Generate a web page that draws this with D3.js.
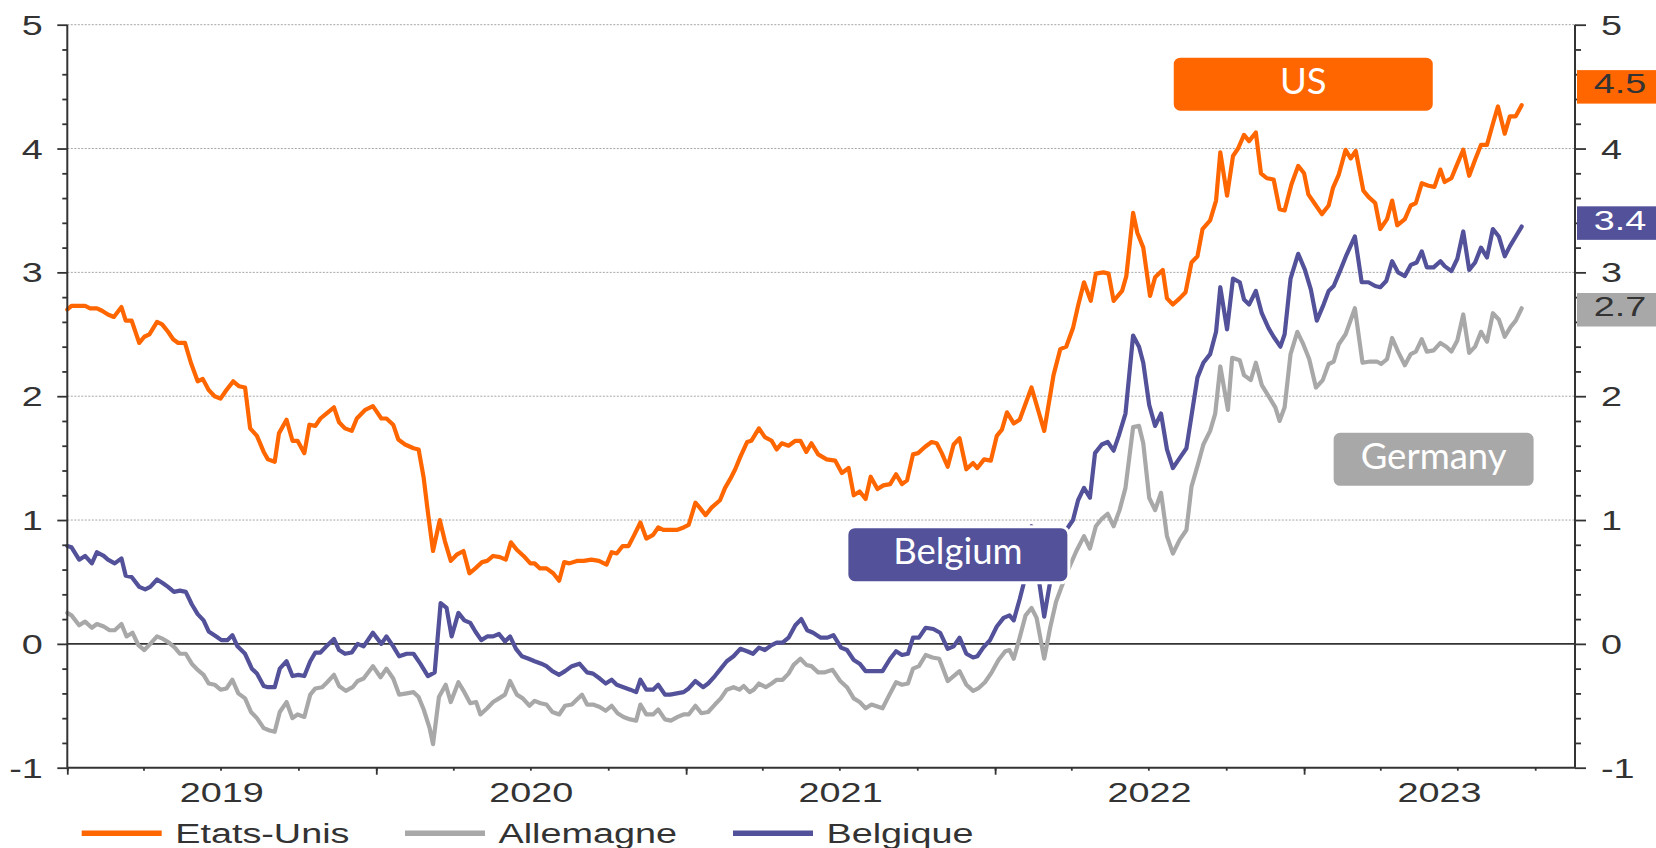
<!DOCTYPE html>
<html>
<head>
<meta charset="utf-8">
<script src="https://cdn.jsdelivr.net/npm/d3@7"></script>
<style>
  html, body { margin: 0; padding: 0; background: #ffffff; }
  svg { display: block; }
</style>
</head>
<body>
<svg id="chart" width="1656" height="848"></svg>
<script>
// 10-year government bond yields (%), weekly, days counted from 1 Jan 2019
const seriesNames = ["Etats-Unis", "Allemagne", "Belgique"];
const seriesColors = ["#ff6600", "#a8a8a8", "#525199"];
const yTicks = [-1, 0, 1, 2, 3, 4, 5];
const yearLabels = ["2019", "2020", "2021", "2022", "2023"];

const usPoints = [
  [0,2.70],[5,2.73],[13,2.73],[21,2.73],[27,2.71],[35,2.71],[41,2.69],[48,2.66],[55,2.64],[64,2.72],
  [69,2.61],[76,2.61],[85,2.43],[91,2.48],[97,2.50],[106,2.60],[112,2.58],[119,2.52],[125,2.46],[131,2.43],
  [139,2.43],[146,2.27],[154,2.12],[160,2.14],[167,2.05],[174,2.00],[181,1.98],[188,2.05],[196,2.12],[203,2.08],
  [210,2.07],[216,1.74],[224,1.68],[232,1.55],[237,1.49],[245,1.47],[250,1.70],[259,1.81],[266,1.64],[272,1.64],
  [280,1.54],[286,1.77],[293,1.76],[299,1.82],[306,1.86],[315,1.91],[321,1.79],[328,1.74],[336,1.72],[342,1.82],
  [352,1.89],[361,1.92],[371,1.82],[377,1.82],[385,1.77],[391,1.65],[399,1.61],[409,1.58],[415,1.57],[421,1.34],
  [426,1.06],[432,0.75],[440,1.00],[446,0.83],[453,0.67],[460,0.72],[468,0.75],[475,0.57],[482,0.61],[490,0.66],
  [496,0.67],[503,0.71],[511,0.70],[518,0.68],[524,0.82],[531,0.76],[539,0.71],[547,0.65],[552,0.65],[558,0.61],
  [566,0.61],[574,0.57],[581,0.51],[587,0.66],[593,0.65],[602,0.67],[610,0.67],[619,0.68],[628,0.67],[637,0.64],
  [643,0.74],[649,0.73],[656,0.79],[663,0.79],[669,0.87],[677,0.98],[684,0.85],[692,0.88],[698,0.94],[704,0.92],
  [712,0.92],[720,0.92],[728,0.94],[734,0.96],[742,1.14],[747,1.10],[754,1.04],[761,1.10],[771,1.16],[777,1.26],
  [783,1.33],[789,1.41],[795,1.51],[803,1.63],[808,1.64],[817,1.74],[824,1.67],[832,1.64],[838,1.57],[844,1.62],
  [852,1.60],[860,1.64],[866,1.64],[873,1.55],[879,1.62],[887,1.53],[897,1.49],[907,1.48],[915,1.38],[923,1.42],
  [929,1.20],[936,1.23],[943,1.17],[949,1.35],[957,1.25],[964,1.28],[972,1.29],[979,1.37],[986,1.29],[992,1.32],
  [999,1.53],[1005,1.54],[1013,1.59],[1021,1.63],[1027,1.62],[1033,1.54],[1040,1.43],[1047,1.61],[1054,1.66],[1062,1.41],
  [1070,1.46],[1075,1.42],[1083,1.49],[1091,1.48],[1098,1.68],[1104,1.73],[1110,1.87],[1118,1.78],[1125,1.81],[1139,2.07],
  [1154,1.72],[1165,2.17],[1173,2.38],[1180,2.40],[1188,2.55],[1194,2.73],[1201,2.92],[1209,2.77],[1215,2.99],[1224,3.00],
  [1230,2.99],[1236,2.77],[1246,2.85],[1251,2.97],[1259,3.48],[1264,3.32],[1271,3.20],[1279,2.81],[1285,2.96],[1294,3.02],
  [1299,2.79],[1306,2.74],[1314,2.79],[1321,2.84],[1328,3.08],[1335,3.13],[1341,3.35],[1350,3.42],[1357,3.58],[1362,3.97],
  [1370,3.62],[1377,3.94],[1383,4.00],[1390,4.11],[1396,4.06],[1404,4.13],[1410,3.80],[1417,3.76],[1425,3.75],[1432,3.51],
  [1438,3.50],[1446,3.71],[1454,3.86],[1461,3.80],[1466,3.63],[1474,3.55],[1482,3.47],[1490,3.54],[1495,3.68],[1502,3.79],
  [1510,3.99],[1516,3.92],[1522,3.98],[1531,3.66],[1537,3.61],[1545,3.56],[1551,3.35],[1559,3.43],[1565,3.58],[1571,3.38],
  [1580,3.43],[1587,3.54],[1593,3.56],[1600,3.72],[1608,3.70],[1615,3.69],[1622,3.83],[1627,3.73],[1635,3.76],[1641,3.86],
  [1649,3.99],[1656,3.78],[1663,3.91],[1670,4.03],[1677,4.03],[1684,4.20],[1690,4.34],[1698,4.12],[1704,4.26],[1711,4.26],
  [1718,4.35]
];

const dePoints = [
  [0,0.25],[5,0.23],[14,0.15],[21,0.18],[29,0.13],[35,0.16],[43,0.14],[50,0.11],[56,0.11],[64,0.16],
  [70,0.06],[77,0.09],[84,-0.01],[91,-0.05],[98,0.00],[106,0.06],[113,0.04],[120,0.01],[127,-0.03],[133,-0.08],
  [140,-0.08],[147,-0.16],[154,-0.21],[161,-0.25],[167,-0.32],[174,-0.33],[181,-0.37],[188,-0.36],[195,-0.29],[202,-0.40],
  [210,-0.44],[217,-0.55],[224,-0.60],[232,-0.68],[239,-0.70],[245,-0.71],[251,-0.55],[259,-0.47],[266,-0.60],[272,-0.57],
  [280,-0.59],[287,-0.41],[293,-0.36],[301,-0.35],[307,-0.31],[315,-0.25],[321,-0.34],[329,-0.38],[337,-0.35],[343,-0.30],
  [350,-0.28],[361,-0.18],[370,-0.27],[377,-0.20],[385,-0.28],[392,-0.41],[401,-0.40],[409,-0.39],[415,-0.43],[421,-0.53],
  [428,-0.68],[432,-0.81],[439,-0.43],[447,-0.33],[453,-0.47],[462,-0.31],[469,-0.39],[476,-0.48],[483,-0.47],[488,-0.57],
  [496,-0.52],[503,-0.47],[510,-0.44],[517,-0.41],[523,-0.30],[531,-0.41],[538,-0.44],[546,-0.50],[552,-0.46],[559,-0.48],
  [566,-0.49],[573,-0.55],[581,-0.57],[588,-0.50],[596,-0.49],[602,-0.45],[608,-0.41],[614,-0.49],[621,-0.49],[629,-0.51],
  [636,-0.54],[643,-0.50],[650,-0.56],[657,-0.59],[665,-0.61],[672,-0.62],[677,-0.49],[684,-0.57],[692,-0.57],[698,-0.53],
  [706,-0.61],[713,-0.62],[721,-0.59],[728,-0.57],[734,-0.57],[742,-0.50],[749,-0.56],[757,-0.55],[765,-0.49],[772,-0.44],
  [779,-0.37],[787,-0.35],[794,-0.37],[799,-0.34],[806,-0.39],[811,-0.37],[817,-0.32],[825,-0.35],[832,-0.32],[838,-0.29],
  [845,-0.29],[852,-0.24],[858,-0.17],[866,-0.12],[873,-0.17],[879,-0.18],[887,-0.23],[895,-0.23],[904,-0.21],[913,-0.30],
  [921,-0.35],[929,-0.44],[936,-0.47],[943,-0.52],[950,-0.49],[963,-0.52],[972,-0.40],[979,-0.31],[986,-0.33],[993,-0.32],
  [999,-0.20],[1006,-0.18],[1014,-0.09],[1022,-0.11],[1030,-0.12],[1040,-0.30],[1047,-0.26],[1054,-0.22],[1062,-0.33],[1070,-0.38],
  [1076,-0.36],[1084,-0.31],[1092,-0.23],[1100,-0.13],[1108,-0.06],[1113,-0.05],[1118,-0.12],[1125,0.05],[1132,0.23],[1139,0.29],
  [1145,0.21],[1154,-0.12],[1161,0.13],[1168,0.34],[1176,0.49],[1183,0.61],[1192,0.75],[1201,0.87],[1208,0.77],[1215,0.95],
  [1222,1.01],[1229,1.05],[1236,0.95],[1243,1.08],[1250,1.26],[1259,1.75],[1266,1.76],[1271,1.62],[1278,1.18],[1285,1.08],
  [1292,1.22],[1299,0.87],[1306,0.73],[1314,0.84],[1322,0.92],[1328,1.27],[1336,1.46],[1342,1.61],[1350,1.72],[1356,1.86],
  [1362,2.24],[1371,1.89],[1376,2.31],[1385,2.29],[1390,2.17],[1398,2.13],[1404,2.27],[1411,2.09],[1419,2.00],[1427,1.91],
  [1432,1.80],[1438,1.91],[1445,2.34],[1453,2.52],[1460,2.42],[1467,2.30],[1475,2.07],[1483,2.13],[1490,2.26],[1496,2.28],
  [1502,2.42],[1510,2.50],[1521,2.71],[1530,2.27],[1539,2.28],[1547,2.28],[1552,2.26],[1559,2.30],[1565,2.47],[1572,2.36],
  [1580,2.25],[1587,2.34],[1593,2.36],[1600,2.46],[1606,2.36],[1614,2.37],[1622,2.43],[1629,2.40],[1635,2.36],[1642,2.45],
  [1649,2.66],[1656,2.35],[1663,2.40],[1670,2.52],[1677,2.44],[1684,2.67],[1691,2.62],[1698,2.48],[1705,2.56],[1711,2.61],
  [1718,2.71]
];

const bePoints = [
  [0,0.79],[5,0.78],[14,0.68],[21,0.71],[29,0.65],[35,0.74],[43,0.71],[48,0.68],[56,0.65],[64,0.69],
  [69,0.55],[76,0.54],[85,0.46],[92,0.44],[98,0.46],[106,0.52],[113,0.49],[119,0.46],[126,0.42],[133,0.43],
  [140,0.42],[147,0.32],[154,0.24],[161,0.19],[167,0.10],[176,0.06],[182,0.03],[189,0.03],[195,0.07],[201,-0.02],
  [210,-0.08],[218,-0.20],[224,-0.24],[232,-0.34],[237,-0.35],[245,-0.35],[251,-0.20],[259,-0.14],[266,-0.26],[273,-0.25],
  [280,-0.26],[287,-0.14],[293,-0.07],[299,-0.07],[306,-0.02],[315,0.04],[321,-0.05],[328,-0.08],[336,-0.07],[343,0.00],
  [350,-0.02],[361,0.09],[371,0.00],[377,0.06],[385,-0.02],[392,-0.10],[401,-0.08],[409,-0.08],[417,-0.16],[426,-0.26],
  [434,-0.23],[441,0.33],[448,0.29],[454,0.06],[462,0.25],[469,0.19],[476,0.17],[482,0.10],[489,0.03],[496,0.06],
  [503,0.06],[510,0.08],[517,0.02],[523,0.06],[530,-0.04],[537,-0.10],[545,-0.12],[552,-0.14],[560,-0.16],[566,-0.18],
  [573,-0.22],[581,-0.25],[588,-0.22],[596,-0.18],[605,-0.16],[614,-0.23],[621,-0.24],[629,-0.28],[636,-0.32],[643,-0.29],
  [649,-0.33],[657,-0.35],[665,-0.37],[672,-0.39],[677,-0.29],[684,-0.37],[692,-0.37],[698,-0.33],[706,-0.41],[712,-0.41],
  [720,-0.40],[728,-0.39],[734,-0.36],[742,-0.30],[751,-0.35],[757,-0.32],[765,-0.26],[772,-0.20],[779,-0.14],[787,-0.10],
  [795,-0.04],[803,-0.06],[810,-0.08],[817,-0.03],[824,-0.05],[832,-0.01],[838,0.01],[845,0.01],[852,0.05],[860,0.15],
  [867,0.20],[874,0.11],[881,0.09],[890,0.05],[898,0.05],[905,0.07],[914,-0.03],[921,-0.05],[929,-0.13],[936,-0.16],
  [943,-0.22],[952,-0.22],[963,-0.22],[972,-0.12],[979,-0.06],[986,-0.09],[993,-0.08],[999,0.05],[1006,0.05],[1014,0.13],
  [1023,0.12],[1031,0.09],[1040,-0.04],[1047,-0.02],[1054,0.05],[1062,-0.08],[1070,-0.11],[1075,-0.10],[1082,-0.03],[1090,0.03],
  [1098,0.14],[1106,0.21],[1113,0.23],[1118,0.19],[1125,0.36],[1131,0.52],[1139,0.95],[1147,0.55],[1154,0.22],[1161,0.50],
  [1168,0.84],[1175,0.88],[1182,0.94],[1188,1.00],[1194,1.16],[1201,1.26],[1208,1.18],[1214,1.54],[1222,1.61],[1229,1.63],
  [1236,1.56],[1242,1.68],[1250,1.86],[1259,2.49],[1266,2.40],[1271,2.27],[1278,1.93],[1285,1.76],[1292,1.86],[1299,1.57],
  [1306,1.42],[1314,1.50],[1322,1.58],[1335,2.15],[1342,2.27],[1350,2.34],[1357,2.52],[1362,2.88],[1370,2.54],[1377,2.95],
  [1385,2.92],[1390,2.78],[1396,2.74],[1404,2.85],[1411,2.67],[1419,2.55],[1425,2.48],[1433,2.40],[1438,2.50],[1445,2.95],
  [1454,3.15],[1462,3.02],[1469,2.86],[1476,2.61],[1484,2.74],[1490,2.85],[1496,2.89],[1504,3.02],[1511,3.14],[1521,3.29],
  [1529,2.92],[1537,2.92],[1545,2.89],[1551,2.88],[1558,2.93],[1565,3.09],[1572,3.00],[1580,2.97],[1587,3.06],[1594,3.08],
  [1600,3.17],[1606,3.04],[1614,3.04],[1622,3.09],[1627,3.05],[1635,3.01],[1642,3.11],[1649,3.33],[1656,3.02],[1663,3.08],
  [1670,3.20],[1677,3.12],[1684,3.35],[1691,3.29],[1698,3.13],[1704,3.21],[1711,3.29],[1718,3.37]
];

// Latest readings shown at the right-hand edge
const endLabels = ["4.5", "2.7", "3.4"];
const endTextColors = ["#333333", "#333333", "#ffffff"];

// Callout names, anchored in data space: [day, yield]
const calloutNames = ["US", "Germany", "Belgium"];
const calloutAnchors = [[1460, 4.52], [1614, 1.49], [1052, 0.72]];
const calloutWidths = [262, 203, 222];

const series = [usPoints, dePoints, bePoints];

// ---------------------------------------------------------------
const svg = d3.select("#chart");
const FONT = "'Liberation Sans', Arial, sans-serif";
const SX = 1.4; // horizontal stretch of the axis lettering
const INK = "#333333";

const day0 = Date.UTC(2019, 0, 1);
const toDate = d => new Date(day0 + d * 864e5);

const x = d3.scaleUtc().domain([toDate(0), toDate(1781)]).range([67.3, 1575]);
const y = d3.scaleLinear().domain([-1, 5]).range([767.7, 24.7]);
const [x0, x1] = x.range();

// stretched text helper
function stretchedText(g, tx, ty, str, size, anchor, fill) {
  return g.append("text")
    .attr("transform", `translate(${tx},${ty}) scale(${SX},1)`)
    .attr("text-anchor", anchor)
    .attr("font-family", FONT)
    .attr("font-size", size)
    .attr("fill", fill)
    .text(str);
}

// grid lines
svg.append("g").selectAll("line")
  .data(yTicks.filter(v => v > 0))
  .join("line")
  .attr("x1", x0).attr("x2", x1)
  .attr("y1", d => y(d)).attr("y2", d => y(d))
  .attr("stroke", "#a6a6a6").attr("stroke-width", 1)
  .attr("stroke-dasharray", "2,1.5");

// zero line
svg.append("line")
  .attr("x1", x0).attr("x2", x1)
  .attr("y1", y(0)).attr("y2", y(0))
  .attr("stroke", INK).attr("stroke-width", 1.7);

// series lines (Germany, Belgium, then US on top)
const line = d3.line().x(d => x(toDate(d[0]))).y(d => y(d[1]));
[1, 2, 0].forEach(i => {
  svg.append("path")
    .datum(series[i])
    .attr("fill", "none")
    .attr("stroke", seriesColors[i])
    .attr("stroke-width", 4.2)
    .attr("stroke-linejoin", "round")
    .attr("stroke-linecap", "round")
    .attr("d", line);
});

// axes
const minorY = d3.range(-1, 5.0001, 0.2).map(v => +v.toFixed(1)).filter(v => !Number.isInteger(v));

function styleAxis(g) {
  g.select(".domain").remove();
  g.selectAll(".tick line").attr("stroke", INK).attr("stroke-width", 1.8);
  g.selectAll(".tick text").remove();
}

const gLeft = svg.append("g").attr("transform", `translate(${x0},0)`);
gLeft.append("g").call(d3.axisLeft(y).tickValues(yTicks).tickSize(10)).call(styleAxis);
gLeft.append("g").call(d3.axisLeft(y).tickValues(minorY).tickSize(5)).call(styleAxis);

const gRight = svg.append("g").attr("transform", `translate(${x1},0)`);
gRight.append("g").call(d3.axisRight(y).tickValues(yTicks).tickSize(11)).call(styleAxis);
gRight.append("g").call(d3.axisRight(y).tickValues(minorY).tickSize(6)).call(styleAxis);

const gBottom = svg.append("g").attr("transform", `translate(0,${y.range()[0]})`);
gBottom.append("g").call(d3.axisBottom(x).ticks(d3.utcMonth.every(3)).tickSize(3)).call(styleAxis);
gBottom.append("g").call(d3.axisBottom(x).ticks(d3.utcYear.every(1)).tickSize(7)).call(styleAxis);

// axis lines
svg.append("line").attr("x1", x0).attr("x2", x0).attr("y1", y(5)).attr("y2", y(-1))
  .attr("stroke", INK).attr("stroke-width", 2);
svg.append("line").attr("x1", x1).attr("x2", x1).attr("y1", y(5)).attr("y2", y(-1))
  .attr("stroke", INK).attr("stroke-width", 2);
svg.append("line").attr("x1", x0).attr("x2", x1).attr("y1", y(-1)).attr("y2", y(-1))
  .attr("stroke", INK).attr("stroke-width", 2);

// y tick labels, both sides
const labels = svg.append("g");
yTicks.forEach(v => {
  stretchedText(labels, x0 - 24.5, y(v) + 10, String(v), 27, "end", INK);
  stretchedText(labels, x1 + 26, y(v) + 10, String(v), 27, "start", INK);
});

// year labels centred on the visible part of each year
yearLabels.forEach(yr => {
  const a = Math.max(x0, x(new Date(Date.UTC(+yr, 0, 1))));
  const b = Math.min(x1, x(new Date(Date.UTC(+yr + 1, 0, 1))));
  stretchedText(labels, (a + b) / 2, 801.5, yr, 27, "middle", INK);
});

// callout boxes
calloutNames.forEach((name, i) => {
  const cx = x(toDate(calloutAnchors[i][0]));
  const cy = y(calloutAnchors[i][1]);
  const w = calloutWidths[i], h = 56;
  const color = seriesColors[i];
  svg.append("rect")
    .attr("x", cx - w / 2).attr("y", cy - h / 2)
    .attr("width", w).attr("height", h)
    .attr("rx", 8).attr("ry", 8)
    .attr("fill", color)
    .attr("stroke", "#ffffff").attr("stroke-width", 3);
  svg.append("text")
    .attr("x", cx).attr("y", cy + 9.5)
    .attr("text-anchor", "middle")
    .attr("font-family", "Lato, 'Open Sans', sans-serif")
    .attr("font-size", 36.5)
    .attr("fill", "#ffffff")
    .text(name);
});

// latest-value tags on the right
endLabels.forEach((lab, i) => {
  const cy = y(+lab);
  svg.append("rect")
    .attr("x", x1 + 2).attr("y", cy - 16.5)
    .attr("width", 1656 - x1).attr("height", 33.5)
    .attr("fill", seriesColors[i]);
  stretchedText(svg, 1620, cy + 6.8, lab, 27, "middle", endTextColors[i]);
});

// legend
const legendX = [81.7, 405, 733];
const legend = svg.append("g");
seriesNames.forEach((name, i) => {
  legend.append("line")
    .attr("x1", legendX[i]).attr("x2", legendX[i] + 80)
    .attr("y1", 833.3).attr("y2", 833.3)
    .attr("stroke", seriesColors[i]).attr("stroke-width", 5.5);
  stretchedText(legend, legendX[i] + 93.5, 842.5, name, 27, "start", INK);
});
</script>
</body>
</html>
